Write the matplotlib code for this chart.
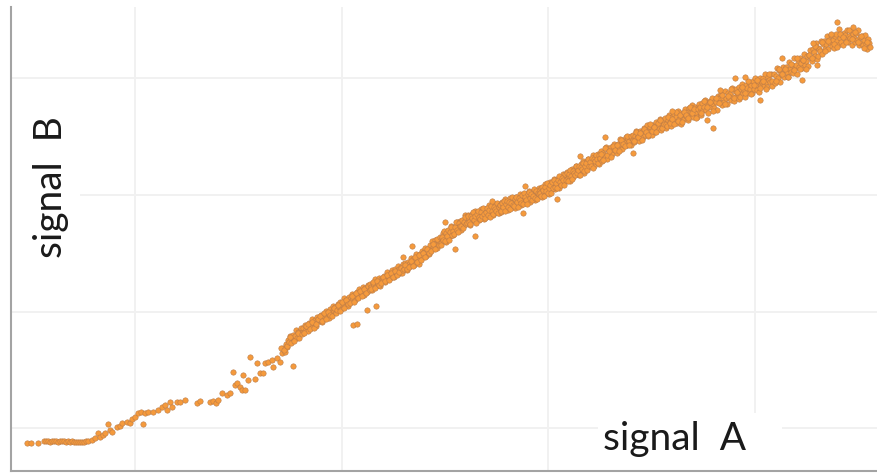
import matplotlib
matplotlib.use("Agg")
import matplotlib.pyplot as plt
from matplotlib.patches import Rectangle
import numpy as np

# Paired readings (signal A, signal B), grouped by stretch of signal A.
flat_start = [(27, 31), (31, 31), (38, 31), (44, 33), (46, 33.5), (48, 33), (50, 32.5),
              (52, 33), (54, 33.5), (56, 33), (58, 32.5), (60, 33), (62, 33), (64, 33.5),
              (66, 32.5), (68, 33), (70, 32.5), (72, 33), (74, 32), (76, 32.5), (78, 32),
              (80, 32.5), (82, 32), (84, 32.5), (86, 33), (88, 33.5)]

ramp_sparse = [(92, 34), (95, 36), (98, 41), (100, 37), (103, 39), (105, 41), (108, 50),
               (110, 44), (112, 42), (117, 47), (120, 48), (122, 51), (127, 52), (130, 51),
               (132, 55), (135, 57), (138, 61), (141, 62), (143, 50), (145, 61), (148, 62),
               (153, 62), (158, 64), (162, 67), (165, 69), (167, 64), (170, 72), (172, 67),
               (177, 72), (180, 72), (185, 74), (197, 71), (200, 73), (210, 72), (213, 73),
               (216, 71), (218, 74), (222, 81), (227, 79), (230, 81), (233, 102), (235, 89),
               (237, 91), (240, 87), (242, 84), (245, 84), (243, 99), (248, 94), (250, 117),
               (255, 95), (257, 111), (260, 101), (263, 101), (265, 111), (268, 112),
               (272, 114), (273, 107), (277, 116), (280, 112), (282, 121), (285, 122),
               (287, 127), (283, 126), (281, 126), (284, 124), (286, 130)]

band_287 = [(287, 128), (288, 134), (289, 132), (290, 138), (291, 131), (292, 137), (293, 139),
            (294, 135), (295, 138), (296, 144), (297, 136), (298, 142), (299, 136), (300, 143),
            (301, 146), (302, 142), (289.5, 137), (293.5, 133), (297.5, 141), (301.5, 140)]

band_303 = [(303, 146), (304, 142), (305, 149), (306, 145), (307, 147), (308, 143), (309, 151),
            (310, 150), (311, 147), (312, 155), (313, 148), (314, 151), (315, 154), (316, 148),
            (317, 157), (318, 153), (319, 155), (320, 153), (321, 159), (322, 152), (323, 157),
            (324, 160), (325, 157), (326, 163), (327, 157), (328, 161), (329, 156), (330, 165),
            (331, 162), (332, 161), (333, 168), (334, 163), (335, 167), (336, 162),
            (303.5, 141), (305.5, 148), (307.5, 150), (309.5, 145), (311.5, 152), (313.5, 146),
            (315.5, 150), (317.5, 155), (319.5, 158), (321.5, 153), (323.5, 161), (325.5, 155),
            (327.5, 162), (329.5, 159), (331.5, 158), (333.5, 166), (335.5, 161)]

band_337 = [(337, 164), (338, 170), (339, 167), (340, 172), (341, 165), (342, 170), (343, 169),
            (344, 176), (345, 168), (346, 174), (347, 172), (348, 168), (349, 177), (350, 175),
            (351, 173), (352, 180), (353, 175), (354, 179), (355, 174), (356, 178), (357, 182),
            (358, 177), (359, 185), (360, 180), (361, 182), (362, 180), (363, 187), (364, 179),
            (365, 186), (366, 185), (367, 182), (368, 189), (369, 188),
            (337.5, 169), (339.5, 163), (341.5, 172), (343.5, 166), (345.5, 174), (347.5, 170),
            (349.5, 171), (351.5, 178), (353.5, 172), (355.5, 181), (357.5, 176), (359.5, 183),
            (361.5, 178), (363.5, 185), (365.5, 181), (367.5, 188), (369.5, 184)]

band_370 = [(370, 190), (371, 187), (372, 184), (373, 191), (374, 189), (375, 195), (376, 188),
            (377, 192), (378, 190), (379, 196), (380, 188), (381, 195), (382, 194), (383, 194),
            (384, 198), (385, 192), (386, 197), (387, 202), (388, 195), (389, 198), (390, 196),
            (391, 201), (392, 204), (393, 199), (394, 197), (395, 205), (396, 202), (397, 201),
            (398, 208), (399, 205), (400, 201), (401, 207), (402, 201), (403, 210),
            (370.5, 185), (372.5, 192), (374.5, 186), (376.5, 193), (378.5, 189), (380.5, 191),
            (382.5, 197), (384.5, 193), (386.5, 199), (388.5, 194), (390.5, 201), (392.5, 197),
            (394.5, 203), (396.5, 199), (398.5, 202), (400.5, 206), (402.5, 204)]

band_404 = [(404, 205), (405, 211), (406, 209), (407, 204), (408, 212), (409, 210), (410, 208),
            (411, 216), (412, 211), (413, 215), (414, 209), (415, 215), (416, 220), (417, 213),
            (418, 216), (419, 210), (420, 220), (421, 217), (422, 223), (423, 217), (424, 222),
            (425, 226), (426, 218), (427, 223), (428, 225), (429, 220), (430, 229), (431, 224),
            (432, 233), (433, 227), (434, 226), (435, 234), (436, 231), (437, 226), (438, 234),
            (439, 231),
            (404.5, 209), (406.5, 205), (408.5, 207), (410.5, 213), (412.5, 208), (414.5, 217),
            (416.5, 212), (418.5, 219), (420.5, 214), (422.5, 221), (424.5, 217), (426.5, 225),
            (428.5, 221), (430.5, 223), (432.5, 230), (434.5, 225), (436.5, 235), (438.5, 229)]

band_440 = [(440, 237), (441, 231), (442, 236), (443, 241), (444, 235), (445, 239), (446, 232),
            (447, 243), (448, 239), (449, 243), (450, 238), (451, 248), (452, 243), (453, 239),
            (454, 247), (455, 243), (456, 247), (457, 252), (458, 243), (459, 247), (460, 253),
            (461, 244), (462, 252), (463, 251), (464, 249), (465, 259), (466, 251),
            (440.5, 229), (441.5, 237), (442.5, 234), (443.5, 243), (444.5, 233), (445.5, 241),
            (446.5, 238), (447.5, 244), (448.5, 234), (449.5, 242), (450.5, 247), (451.5, 239),
            (452.5, 243), (453.5, 240), (454.5, 247), (455.5, 252), (456.5, 244), (457.5, 242),
            (458.5, 251), (459.5, 248), (460.5, 248), (461.5, 254), (462.5, 246), (463.5, 252),
            (464.5, 257), (465.5, 250)]

band_467 = [(467, 251), (468, 259), (469, 255), (470, 249), (471, 258), (472, 260), (473, 255),
            (474, 253), (475, 263), (476, 259), (477, 256), (478, 261), (479, 254), (480, 259),
            (481, 265), (482, 257), (483, 262), (484, 255), (485, 265), (486, 260), (487, 263),
            (488, 258), (489, 269), (490, 261), (491, 266), (492, 264), (493, 259), (494, 267),
            (495, 270), (496, 262), (497, 265), (498, 270), (499, 261),
            (467.5, 258), (468.5, 252), (469.5, 250), (470.5, 258), (471.5, 256), (472.5, 262),
            (473.5, 254), (474.5, 258), (475.5, 251), (476.5, 260), (477.5, 263), (478.5, 257),
            (479.5, 255), (480.5, 262), (481.5, 258), (482.5, 266), (483.5, 260), (484.5, 256),
            (485.5, 262), (486.5, 266), (487.5, 259), (488.5, 264), (489.5, 257), (490.5, 268),
            (491.5, 263), (492.5, 260), (493.5, 267), (494.5, 265), (495.5, 263), (496.5, 271),
            (497.5, 261), (498.5, 267), (499.5, 269)]

band_500 = [(500, 269), (501, 262), (502, 272), (503, 268), (504, 265), (505, 275), (506, 268),
            (507, 272), (508, 264), (509, 271), (510, 276), (511, 269), (512, 267), (513, 274),
            (514, 272), (515, 266), (516, 277), (517, 272), (518, 276), (519, 271), (520, 280),
            (521, 269), (522, 276), (523, 273), (524, 280), (525, 276), (526, 272), (527, 280),
            (528, 276), (529, 283), (530, 272), (531, 280), (532, 282), (533, 276), (534, 279),
            (535, 274), (536, 283), (537, 281), (538, 278), (539, 286),
            (500.5, 263), (501.5, 271), (502.5, 267), (503.5, 273), (504.5, 263), (505.5, 270),
            (506.5, 273), (507.5, 267), (508.5, 272), (509.5, 265), (510.5, 271), (511.5, 277),
            (512.5, 269), (513.5, 268), (514.5, 275), (515.5, 277), (516.5, 272), (517.5, 267),
            (518.5, 276), (519.5, 274), (520.5, 271), (521.5, 279), (522.5, 270), (523.5, 281),
            (524.5, 277), (525.5, 274), (526.5, 270), (527.5, 280), (528.5, 282), (529.5, 276),
            (530.5, 280), (531.5, 274), (532.5, 278), (533.5, 285), (534.5, 276), (535.5, 283),
            (536.5, 275), (537.5, 281), (538.5, 280), (539.5, 284)]

band_540 = [(540, 281), (541, 286), (542, 277), (543, 285), (544, 281), (545, 290), (546, 281),
            (547, 286), (548, 289), (549, 280), (550, 292), (551, 287), (552, 285), (553, 291),
            (554, 295), (555, 285), (556, 290), (557, 295), (558, 290), (559, 286), (560, 296),
            (561, 294), (562, 290), (563, 300), (564, 294), (565, 298), (566, 293),
            (540.5, 278), (541.5, 287), (542.5, 284), (543.5, 278), (544.5, 287), (545.5, 283),
            (546.5, 291), (547.5, 281), (548.5, 286), (549.5, 289), (550.5, 281), (551.5, 292),
            (552.5, 286), (553.5, 294), (554.5, 287), (555.5, 291), (556.5, 286), (557.5, 294),
            (558.5, 298), (559.5, 292), (560.5, 289), (561.5, 296), (562.5, 294), (563.5, 289),
            (564.5, 300), (565.5, 294), (566.5, 302)]

band_567 = [(567, 301), (568, 296), (569, 298), (570, 293), (571, 302), (572, 305), (573, 297),
            (574, 302), (575, 301), (576, 308), (577, 300), (578, 306), (579, 299), (580, 305),
            (581, 310), (582, 304), (583, 313), (584, 301), (585, 309), (586, 312), (587, 305),
            (588, 315), (589, 309), (590, 313), (591, 309), (592, 312), (593, 319), (594, 308),
            (595, 317), (596, 313), (597, 316), (598, 320), (599, 310),
            (567.5, 293), (568.5, 300), (569.5, 304), (570.5, 298), (571.5, 295), (572.5, 303),
            (573.5, 301), (574.5, 299), (575.5, 308), (576.5, 301), (577.5, 304), (578.5, 308),
            (579.5, 299), (580.5, 307), (581.5, 305), (582.5, 311), (583.5, 303), (584.5, 308),
            (585.5, 311), (586.5, 304), (587.5, 315), (588.5, 308), (589.5, 312), (590.5, 308),
            (591.5, 316), (592.5, 306), (593.5, 315), (594.5, 313), (595.5, 319), (596.5, 315),
            (597.5, 311), (598.5, 319), (599.5, 315)]

band_600 = [(600, 316), (601, 323), (602, 313), (603, 321), (604, 319), (605, 317), (606, 327),
            (607, 315), (608, 325), (609, 323), (610, 321), (611, 327), (612, 320), (613, 325),
            (614, 330), (615, 325), (616, 328), (617, 321), (618, 330), (619, 325), (620, 335),
            (621, 330), (622, 325), (623, 334), (624, 329), (625, 331), (626, 337), (627, 329),
            (628, 335), (629, 333), (630, 337), (631, 329), (632, 336),
            (600.5, 320), (602.5, 314), (604.5, 326), (606.5, 319), (608.5, 323), (610.5, 317),
            (612.5, 328), (614.5, 324), (616.5, 329), (618.5, 323), (620.5, 334), (622.5, 330),
            (624.5, 328), (626.5, 338), (628.5, 329), (630.5, 338), (632.5, 334)]

band_633 = [(633, 339), (634, 332), (635, 338), (636, 343), (637, 336), (638, 338), (639, 333),
            (640, 343), (641, 339), (642, 342), (643, 337), (644, 346), (645, 339), (646, 343),
            (647, 349), (648, 338), (649, 344), (650, 347), (651, 343), (652, 339), (653, 349),
            (654, 348), (655, 342), (656, 352), (657, 346), (658, 349), (659, 345), (660, 355),
            (661, 344), (662, 350), (663, 353), (664, 349), (665, 356), (666, 346),
            (633.5, 333), (635.5, 342), (637.5, 337), (639.5, 341), (641.5, 334), (643.5, 345),
            (645.5, 342), (647.5, 339), (649.5, 350), (651.5, 343), (653.5, 347), (655.5, 342),
            (657.5, 351), (659.5, 354), (661.5, 346), (663.5, 350), (665.5, 350)]

band_667 = [(667, 348), (668, 354), (669, 359), (670, 352), (671, 348), (672, 357), (673, 354),
            (674, 360), (675, 352), (676, 357), (677, 351), (678, 363), (679, 355), (680, 361),
            (681, 350), (682, 358), (683, 361), (684, 355), (685, 365), (686, 358), (687, 362),
            (688, 354), (689, 366), (690, 358), (691, 362), (692, 369), (693, 357), (694, 362),
            (695, 367), (696, 361), (697, 357), (698, 367), (699, 370),
            (667.5, 357), (669.5, 351), (671.5, 355), (673.5, 350), (675.5, 362), (677.5, 353),
            (679.5, 359), (681.5, 352), (683.5, 362), (685.5, 359), (687.5, 356), (689.5, 367),
            (691.5, 361), (693.5, 365), (695.5, 356), (697.5, 365), (699.5, 362)]

band_700 = [(700, 367), (701, 359), (702, 371), (703, 364), (704, 367), (705, 374), (706, 364),
            (707, 371), (708, 361), (709, 370), (710, 373), (711, 367), (712, 376), (713, 370),
            (714, 366), (715, 373), (716, 372), (717, 364), (718, 378), (719, 376), (720, 371),
            (721, 380), (722, 369), (723, 376), (724, 372), (725, 383), (726, 376), (727, 370),
            (728, 381), (729, 376), (730, 380), (731, 374), (732, 386), (733, 377), (734, 373),
            (735, 383), (736, 385), (737, 378), (738, 381), (739, 387),
            (700.5, 361), (703.5, 373), (706.5, 367), (709.5, 372), (712.5, 363), (715.5, 376),
            (718.5, 371), (721.5, 379), (724.5, 370), (727.5, 378), (730.5, 385), (733.5, 376),
            (736.5, 382), (738.5, 375)]

band_740 = [(740, 377), (741, 385), (742, 390), (743, 381), (744, 384), (745, 377), (746, 389),
            (747, 386), (748, 381), (749, 392), (750, 385), (751, 389), (752, 381), (753, 393),
            (754, 385), (755, 396), (756, 389), (757, 384), (758, 393), (759, 382), (760, 396),
            (761, 389), (762, 392), (763, 396), (764, 388), (765, 400), (766, 392), (767, 387),
            (768, 397), (769, 394), (770, 392), (771, 400), (772, 388),
            (741.5, 387), (744.5, 381), (747.5, 393), (750.5, 380), (753.5, 389), (756.5, 394),
            (759.5, 386), (762.5, 393), (765.5, 385), (768.5, 400), (771.5, 393)]

band_774 = [(774, 400), (775, 391), (776, 398), (777, 406), (778, 396), (779, 404), (780, 392),
            (781, 401), (782, 399), (783, 407), (784, 397), (785, 404), (786, 407), (787, 402),
            (788, 397), (789, 412), (790, 405), (791, 402), (792, 409), (793, 401), (794, 416),
            (795, 406), (796, 409), (797, 400), (798, 414), (799, 407), (800, 416), (801, 411),
            (802, 406), (803, 414), (804, 420), (805, 409), (806, 413), (807, 418), (808, 408),
            (809, 419), (810, 424), (811, 416), (812, 413), (813, 425), (814, 422), (815, 418),
            (816, 431), (817, 415), (818, 426), (819, 425),
            (775.5, 393), (778.5, 405), (781.5, 400), (784.5, 405), (787.5, 397), (790.5, 410),
            (793.5, 404), (796.5, 416), (799.5, 405), (802.5, 414), (805.5, 405), (808.5, 419),
            (811.5, 416), (814.5, 428), (817.5, 418)]

band_820 = [(820, 423), (821, 433), (822, 420), (823, 430), (824, 433), (825, 425), (826, 430),
            (827, 438), (828, 425), (829, 434), (830, 431), (831, 439), (832, 428), (833, 434),
            (834, 426), (835, 438), (836, 440), (837, 433), (838, 429), (839, 445), (840, 436),
            (841, 432), (842, 439), (843, 429), (844, 441), (845, 439), (846, 434), (847, 444),
            (848, 432), (849, 438), (850, 436), (851, 443), (852, 429), (853, 440), (854, 436),
            (855, 432), (856, 441), (857, 434), (858, 444), (859, 429), (860, 437), (861, 431),
            (862, 438), (863, 429), (864, 434), (865, 439), (866, 430), (867, 425), (868, 435),
            (869, 431), (870, 427),
            (821.5, 432), (824.5, 423), (827.5, 433), (830.5, 440), (833.5, 430), (836.5, 427),
            (839.5, 440), (842.5, 437), (845.5, 432), (848.5, 444), (851.5, 435), (854.5, 442),
            (857.5, 432), (860.5, 438), (863.5, 426), (866.5, 432)]

stray = [(293, 108), (353, 149), (357, 150), (367, 164), (376, 168), (403, 217), (412, 228),
         (445, 252), (455, 225), (475, 238), (492, 273), (523, 261), (525, 288), (557, 275),
         (580, 318), (605, 337), (633, 321), (672, 363), (707, 354), (713, 346), (720, 384),
         (735, 396), (745, 397), (760, 374), (782, 416), (802, 394), (813, 431), (817, 409),
         (837, 452), (853, 447)]

segments = [flat_start, ramp_sparse, band_287, band_303, band_337, band_370, band_404,
            band_440, band_467, band_500, band_540, band_567, band_600, band_633, band_667,
            band_700, band_740, band_774, band_820, stray]

pts = np.array([p for seg in segments for p in seg], dtype=float)
signal_a, signal_b = pts[:, 0], pts[:, 1]

grid_a = [135, 342, 548, 755]
grid_b = [46, 162, 279, 396]

W, H = 877, 474
fig = plt.figure(figsize=(W / 100, H / 100), dpi=100)
fig.patch.set_facecolor("white")
ax = fig.add_axes([11 / W, 3 / H, 866 / W, 464 / H])
ax.set_xlim(11, 877)
ax.set_ylim(3, 467)

ax.set_xticks(grid_a)
ax.set_yticks(grid_b)
ax.tick_params(length=0, labelbottom=False, labelleft=False)
ax.set_axisbelow(True)
ax.grid(True, color="#F1F1F1", linewidth=1.4)

for side in ("top", "right"):
    ax.spines[side].set_visible(False)
for side in ("left", "bottom"):
    ax.spines[side].set_color("#A3A3A3")
    ax.spines[side].set_linewidth(1.5)

# white label backgrounds over the grid
ax.add_patch(Rectangle((598, 3), 184, 58, facecolor="white", edgecolor="none", zorder=1))
ax.add_patch(Rectangle((11, 204), 69, 170, facecolor="white", edgecolor="none", zorder=1))

ax.scatter(signal_a, signal_b, s=15, c="#F59A3C", edgecolors="#BC7C48",
           linewidths=0.4, zorder=3)

font = ["Lato", "DejaVu Sans"]
fig.text(603 / W, (H - 450) / H, "signal  A", family=font, fontsize=28, color="#1A1A1A",
         ha="left", va="baseline", rotation_mode="anchor")
fig.text(62 / W, (H - 258) / H, "signal  B", family=font, fontsize=28, color="#1A1A1A",
         rotation=90, ha="left", va="baseline", rotation_mode="anchor")

fig.savefig("out.png", dpi=100, facecolor="white")
